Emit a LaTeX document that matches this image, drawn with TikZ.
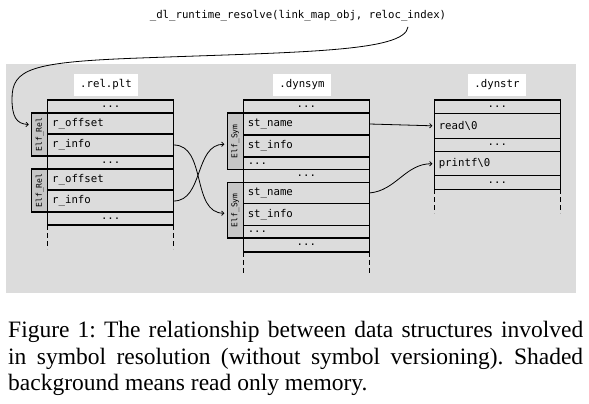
\documentclass[tikz,border=0pt]{standalone}
\usepackage{fontspec}
\setmainfont{Liberation Serif}
\setmonofont{DejaVu Sans Mono}
\usepackage{xcolor}
\usetikzlibrary{arrows.meta,positioning,calc}

\definecolor{rogray}{HTML}{DCDCDC}
\definecolor{tabgray}{HTML}{C6C6C6}

\begin{document}
\begin{tikzpicture}[x=1pt, y=1pt,
  cell/.style={draw, line width=1.1pt, outer sep=0pt, minimum width=126pt, minimum height=#1,
    inner xsep=4.5pt, inner ysep=0pt, text width=117pt, align=left,
    font=\fontsize{10.7}{12}\selectfont\ttfamily},
  dots/.style={cell=#1, align=center},
  tab/.style={draw, line width=1.1pt, outer sep=0pt, fill=tabgray, minimum width=16pt,
    inner sep=0pt, font=\fontsize{8}{9}\selectfont\ttfamily},
  sect/.style={fill=white, inner xsep=6.5pt, inner ysep=5.5pt, text height=8pt, text depth=2.5pt,
    font=\fontsize{10.7}{12}\selectfont\ttfamily},
  link/.style={-{To[length=3pt,width=5pt]}, line width=0.8pt},
  tail/.style={line width=0.9pt, dash pattern=on 5pt off 3pt}]
\useasboundingbox (0,0) rectangle (589,404);

% read only area
\fill[rogray] (6,111) rectangle (576,340);

% section names
\node[sect] (relplt) at (106,319) {.rel.plt};
\node[sect] (dynsym) at (302,319) {.dynsym};
\node[sect] (dynstr) at (497,319) {.dynstr};

% .rel.plt entries
\node[dots=13pt, anchor=north west] (r0) at (47.7,304) {...};
\node[cell=21pt, below=0pt of r0] (roff1) {r\_offset};
\node[cell=22pt, below=0pt of roff1] (rinfo1) {r\_info};
\node[dots=13pt, below=0pt of rinfo1] (r1) {...};
\node[cell=21pt, below=0pt of r1] (roff2) {r\_offset};
\node[cell=22pt, below=0pt of roff2] (rinfo2) {r\_info};
\node[dots=13pt, below=0pt of rinfo2] (r2) {...};
\node[tab, minimum height=43pt, anchor=north east] (rel1) at (roff1.north west) {\rotatebox{90}{Elf\_Rel}};
\node[tab, minimum height=43pt, anchor=north east] (rel2) at (roff2.north west) {\rotatebox{90}{Elf\_Rel}};

% .dynsym entries
\node[dots=13pt, anchor=north west] (s0) at (243.3,304) {...};
\node[cell=22pt, below=0pt of s0] (sname1) {st\_name};
\node[cell=22pt, below=0pt of sname1] (sinfo1) {st\_info};
\node[cell=12.5pt, below=0pt of sinfo1] (sx1) {...};
\node[dots=13pt, below=0pt of sx1] (s1) {...};
\node[cell=21pt, below=0pt of s1] (sname2) {st\_name};
\node[cell=22pt, below=0pt of sname2] (sinfo2) {st\_info};
\node[cell=12.5pt, below=0pt of sinfo2] (sx2) {...};
\node[dots=14pt, below=0pt of sx2] (s2) {...};
\node[tab, minimum height=56.5pt, anchor=north east] (sym1) at (sname1.north west) {\rotatebox{90}{Elf\_Sym}};
\node[tab, minimum height=55.5pt, anchor=north east] (sym2) at (sname2.north west) {\rotatebox{90}{Elf\_Sym}};

% .dynstr entries
\node[dots=13.3pt, anchor=north west] (d0) at (434.3,304) {...};
\node[cell=25pt, below=0pt of d0] (read) {read\textbackslash 0};
\node[dots=13.4pt, below=0pt of read] (d1) {...};
\node[cell=24pt, below=0pt of d1] (printf) {printf\textbackslash 0};
\node[dots=13.6pt, below=0pt of printf] (d2) {...};

% tables go on
\foreach \t/\len in {r2/24, s2/23, d2/24} {
  \draw[tail] (\t.south west) -- ++(0,-\len);
  \draw[tail] (\t.south east) -- ++(0,-\len);
}

% the call
\node[font=\fontsize{10.7}{12}\selectfont\ttfamily] (call) at (298,388)
  {\_dl\_runtime\_resolve(link\_map\_obj, reloc\_index)};
\coordinate (callidx) at ($(call.south)+(110,-2)$);
\draw[link] (callidx) .. controls (405,352) and (300,352) .. (140,346)
  .. controls (30,342) and (12,335) .. (12,305)
  .. controls (12,288) and (16,280) .. ([xshift=-3pt,yshift=10pt]rel1.west);

% lookups
\draw[link] (rinfo1.east) to[out=0, in=180] ([xshift=-3pt,yshift=-3pt]sym2.west);
\draw[link] (rinfo2.east) to[out=0, in=180] ([xshift=-3pt,yshift=-3pt]sym1.west);
\draw[link] (sname1.east) -- ([xshift=-2pt]read.west);
\draw[link] (sname2.east) to[out=5, in=180] ([xshift=-2pt]printf.west);

% caption
\node[anchor=north west, inner sep=0pt, align=left, font=\fontsize{23.5}{26.7}\selectfont\frenchspacing] (caption) at (8,83)
  {\makebox[575pt][s]{Figure 1: The relationship between data structures involved}\\
   \makebox[575pt][s]{in symbol resolution (without symbol versioning). Shaded}\\
   background means read only memory.};
\end{tikzpicture}
\end{document}
